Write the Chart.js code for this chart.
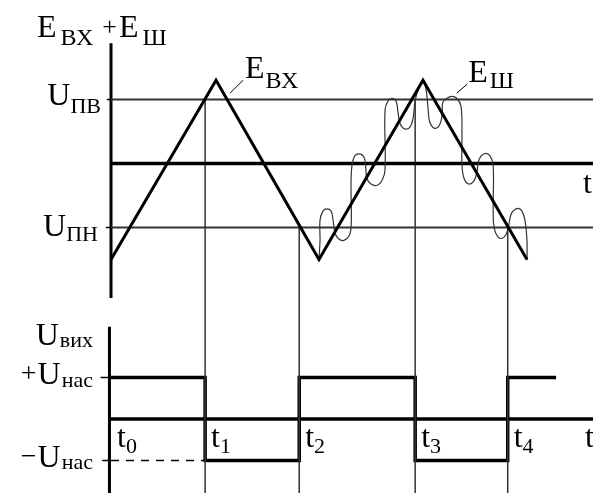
<!DOCTYPE html>
<html>
<head>
<meta charset="utf-8">
<script src="https://cdn.jsdelivr.net/npm/chart.js@4/dist/chart.umd.min.js"></script>
<style>
  html, body { margin: 0; padding: 0; background: #ffffff; }
  #wrap { width: 593px; height: 493px; position: relative; }
</style>
</head>
<body>
<div id="wrap"><canvas id="c"></canvas></div>
<script>
// ---------- data (time units, voltage units) ----------
const U_PV = 1;          // upper threshold  U_ПВ
const U_PN = -1;         // lower threshold  U_ПН
const U_SAT = 1;         // output saturation U_нас

// input triangle E_вх
const TRI_T = [0, 2.02, 4, 6, 8];
const TRI_E = [-1.5, 1.3, -1.5, 1.3, -1.5];

// switching instants t1..t4 and the threshold each one starts from
const SWITCH_T = [1.81, 3.62, 5.85, 7.63];
const SWITCH_LEVEL = [U_PV, U_PN, U_PV, U_PN];

// output U_вих (step waveform)
const OUT_T = [0, 1.81, 1.81, 3.62, 3.62, 5.85, 5.85, 7.63, 7.63, 8.56];
const OUT_V = [1, 1, -1, -1, 1, 1, -1, -1, 1, 1];

// input with noise E_вх + E_ш (second period)
const NOISE_T = [4.00, 4.02, 4.02, 4.08, 4.15, 4.23, 4.27, 4.31, 4.38, 4.48, 4.58, 4.62, 4.62,
  4.67, 4.77, 4.87, 4.90, 4.92, 5.00, 5.12, 5.21, 5.27, 5.27, 5.33, 5.40, 5.48, 5.52, 5.56,
  5.65, 5.75, 5.81, 5.85, 5.92, 6.00,
  6.06, 6.10, 6.13, 6.23, 6.33, 6.37, 6.38, 6.46, 6.56, 6.65, 6.73, 6.75, 6.75, 6.79, 6.88,
  6.98, 7.04, 7.06, 7.12, 7.21, 7.29, 7.35, 7.35, 7.37, 7.46, 7.56, 7.63, 7.69, 7.75, 7.83,
  7.90, 7.96, 8.00, 8.00];
const NOISE_V = [-1.49, -1.20, -0.88, -0.74, -0.71, -0.74, -0.88, -1.09, -1.18, -1.20, -1.13, -0.96, -0.18,
  0.09, 0.15, 0.09, -0.07, -0.23, -0.32, -0.34, -0.27, -0.10, 0.84, 0.98, 1.02, 0.98, 0.80, 0.62,
  0.54, 0.57, 0.71, 0.99, 1.18, 1.29,
  1.15, 0.84, 0.65, 0.55, 0.62, 0.80, 0.95, 1.02, 1.05, 1.02, 0.90, 0.52, -0.02, -0.23, -0.32,
  -0.27, -0.13, 0.02, 0.12, 0.16, 0.12, -0.02, -0.73, -1.01, -1.16, -1.15, -1.04, -0.80, -0.73, -0.70,
  -0.74, -0.88, -1.20, -1.51];

// annotation leader lines (label pointers)
const LEAD_EVX_T = [2.29, 2.54], LEAD_EVX_V = [1.10, 1.30];
const LEAD_ESH_T = [6.65, 6.85], LEAD_ESH_V = [1.10, 1.24];

// axis extents
const UP_AXIS_V = [1.88, -2.10];
const LOW_AXIS_V = 2.22;
const TIME_SUBS = ['0', '1', '2', '3', '4'];

// ---------- scale ranges (layout) ----------
const X_MIN = -2.135, X_MAX = 9.27;
const Y_MIN = -5.148, Y_MAX = 2.555;      // upper panel
const Y2_MIN = -1.783, Y2_MAX = 10.096;   // lower panel

function pts(xs, ys) { return xs.map((x, i) => ({ x: x, y: ys[i] })); }
function line(data, axis, width, color, extra) {
  return Object.assign({ data: data, yAxisID: axis, showLine: true, pointRadius: 0,
    borderWidth: width, borderColor: color, backgroundColor: color, fill: false, tension: 0 }, extra || {});
}

const datasets = [];
// upper panel
datasets.push(line(pts(TRI_T, TRI_E), 'y', 3, '#000'));
datasets.push(line(pts(NOISE_T, NOISE_V), 'y', 1.2, '#333', { tension: 0.4 }));
datasets.push(line([{ x: 0, y: U_PV }, { x: X_MAX, y: U_PV }], 'y', 1.8, '#333'));
datasets.push(line([{ x: 0, y: U_PN }, { x: X_MAX, y: U_PN }], 'y', 1.8, '#333'));
datasets.push(line([{ x: 0, y: 0 }, { x: X_MAX, y: 0 }], 'y', 3.5, '#000'));
datasets.push(line([{ x: 0, y: UP_AXIS_V[0] }, { x: 0, y: UP_AXIS_V[1] }], 'y', 3, '#000'));
datasets.push(line([{ x: -0.08, y: U_PV }, { x: 0, y: U_PV }], 'y', 1.5, '#000'));
datasets.push(line([{ x: -0.10, y: U_PN }, { x: 0, y: U_PN }], 'y', 1.5, '#000'));
datasets.push(line(pts(LEAD_EVX_T, LEAD_EVX_V), 'y', 1, '#000'));
datasets.push(line(pts(LEAD_ESH_T, LEAD_ESH_V), 'y', 1, '#000'));
SWITCH_T.forEach((t, i) => {
  datasets.push(line([{ x: t, y: SWITCH_LEVEL[i] }, { x: t, y: Y_MIN }], 'y', 1.5, '#333'));
});
// lower panel
datasets.push(line(pts(OUT_T, OUT_V), 'y2', 3.5, '#000'));
datasets.push(line([{ x: -0.03, y: 0 }, { x: X_MAX, y: 0 }], 'y2', 3.5, '#000'));
datasets.push(line([{ x: -0.03, y: LOW_AXIS_V }, { x: -0.03, y: Y2_MIN }], 'y2', 3, '#000'));
datasets.push(line([{ x: 0, y: -U_SAT }, { x: SWITCH_T[0], y: -U_SAT }], 'y2', 1.5, '#000', { borderDash: [8, 7] }));
datasets.push(line([{ x: -0.2, y: U_SAT }, { x: 0, y: U_SAT }], 'y2', 1.5, '#000'));
datasets.push(line([{ x: -0.17, y: -U_SAT }, { x: 0, y: -U_SAT }], 'y2', 1.5, '#000'));

const SERIF = '"Liberation Serif", "DejaVu Serif", serif';
function drawParts(ctx, x, y, parts, alignRight) {
  // parts: [text, font, dy, dx]
  let total = 0;
  parts.forEach(p => { ctx.font = p[1]; total += ctx.measureText(p[0]).width + (p[3] || 0); });
  let cx = alignRight ? x - total : x;
  parts.forEach(p => {
    ctx.font = p[1];
    cx += (p[3] || 0);
    ctx.fillText(p[0], cx, y + (p[2] || 0));
    cx += ctx.measureText(p[0]).width;
  });
}

const labelPlugin = {
  id: 'labels',
  afterDatasetsDraw(chart) {
    const ctx = chart.ctx;
    const xs = chart.scales.x, ys = chart.scales.y, ys2 = chart.scales.y2;
    const ax = xs.getPixelForValue(0);
    const MAIN = '32px ' + SERIF, SUB = '22px ' + SERIF, SUB2 = '24px ' + SERIF;
    const UF = '32px ' + SERIF;
    ctx.save();
    ctx.fillStyle = '#000';
    ctx.strokeStyle = '#000';
    ctx.textBaseline = 'alphabetic';
    ctx.textAlign = 'left';
    // title E_вх + E_ш
    drawParts(ctx, ax - 74, 37, [['E', MAIN, 0], ['ВХ', SUB2, 8, 4], ['+', '26px ' + SERIF, -2, 9], ['E', MAIN, 0, 2], ['Ш', SUB2, 8, 4]]);
    // thresholds
    const yPV = ys.getPixelForValue(U_PV), yPN = ys.getPixelForValue(U_PN);
    drawParts(ctx, ax - 10, yPV + 5, [['U', UF, 0], ['ПВ', SUB, 8]], true);
    drawParts(ctx, ax - 13, yPN + 8, [['U', UF, 0], ['ПН', SUB, 5]], true);
    // curve labels
    drawParts(ctx, xs.getPixelForValue(LEAD_EVX_T[1]) + 2, ys.getPixelForValue(LEAD_EVX_V[1]) - 2, [['E', MAIN, 0], ['ВХ', SUB2, 10, 1]]);
    drawParts(ctx, xs.getPixelForValue(LEAD_ESH_T[1]) + 1, ys.getPixelForValue(LEAD_ESH_V[1]) - 2, [['E', MAIN, 0], ['Ш', SUB2, 6, 2]]);
    // time axis label (upper)
    ctx.font = MAIN;
    ctx.fillText('t', 583, ys.getPixelForValue(0) + 29);
    // lower labels
    const y0 = ys2.getPixelForValue(0), yP = ys2.getPixelForValue(U_SAT), yM = ys2.getPixelForValue(-U_SAT);
    drawParts(ctx, ax - 18, ys2.getPixelForValue(LOW_AXIS_V) + 18, [['U', UF, 0], ['вих', SUB, 2, 1]], true);
    drawParts(ctx, ax - 18, yP + 6, [['+', '28px ' + SERIF, -2], ['U', UF, 0, 1], ['нас', SUB, 3, 1]], true);
    drawParts(ctx, ax - 18, yM + 6, [['\u2212', '28px ' + SERIF, -2], ['U', UF, 0, 1], ['нас', SUB, 2, 1]], true);
    const tpos = [0].concat(SWITCH_T);
    tpos.forEach((t, i) => {
      drawParts(ctx, xs.getPixelForValue(t) + 6, y0 + 28, [['t', MAIN, 0], [TIME_SUBS[i], SUB, 6, 0]]);
    });
    ctx.font = MAIN;
    ctx.fillText('t', 585, y0 + 28);
    ctx.restore();
  }
};

new Chart(document.getElementById('c'), {
  type: 'scatter',
  data: { datasets: datasets },
  options: {
    responsive: true,
    maintainAspectRatio: false,
    animation: false,
    events: [],
    layout: { padding: 0 },
    plugins: { legend: { display: false }, tooltip: { enabled: false } },
    scales: {
      x: { type: 'linear', min: X_MIN, max: X_MAX, display: false },
      y: { type: 'linear', min: Y_MIN, max: Y_MAX, display: false },
      y2: { type: 'linear', min: Y2_MIN, max: Y2_MAX, display: false }
    }
  },
  plugins: [labelPlugin]
});
</script>
</body>
</html>
